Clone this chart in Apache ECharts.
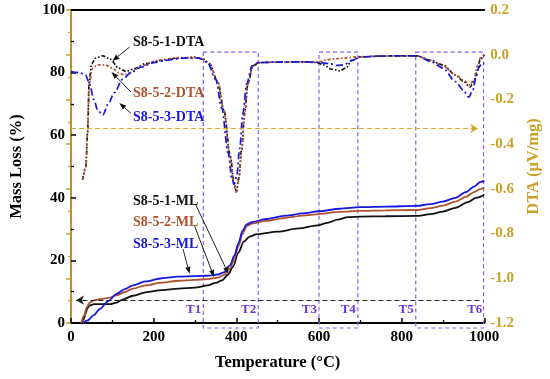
<!DOCTYPE html>
<html><head><meta charset="utf-8">
<script src="https://cdn.jsdelivr.net/npm/echarts@6/dist/echarts.min.js"></script>
<style>html,body{margin:0;padding:0;background:#fff}#c{width:550px;height:379px}</style>
</head><body><div id="c"></div>
<script>
// ---------- data ----------
const seriesNames = ['S8-5-1-DTA','S8-5-2-DTA','S8-5-3-DTA','S8-5-1-ML','S8-5-2-ML','S8-5-3-ML'];
// DTA (µV/mg) vs temperature (°C)
const dta1 = [[28,-0.56],[36,-0.50],[40,-0.35],[44,-0.12],[50,-0.04],[60,-0.015],[77,-0.005],[95,-0.02],[115,-0.06],[133,-0.075],[150,-0.065],[180,-0.04],[220,-0.025],[260,-0.015],[300,-0.012],[320,-0.02],[335,-0.04],[355,-0.12],[370,-0.25],[385,-0.45],[395,-0.58],[400,-0.61],[406,-0.55],[413,-0.42],[420,-0.26],[428,-0.13],[440,-0.05],[455,-0.035],[500,-0.033],[560,-0.032],[595,-0.035],[610,-0.045],[630,-0.065],[650,-0.072],[665,-0.06],[680,-0.025],[700,-0.01],[750,-0.006],[800,-0.005],[836,-0.005],[870,-0.025],[900,-0.046],[930,-0.09],[950,-0.12],[965,-0.145],[975,-0.12],[983,-0.07],[990,-0.02],[1000,0.0]];
const dta2 = [[28,-0.56],[36,-0.50],[40,-0.35],[44,-0.13],[52,-0.06],[65,-0.045],[82,-0.045],[100,-0.06],[115,-0.08],[128,-0.09],[145,-0.08],[170,-0.05],[210,-0.025],[260,-0.013],[300,-0.012],[320,-0.02],[335,-0.04],[355,-0.12],[370,-0.25],[385,-0.46],[395,-0.59],[400,-0.62],[406,-0.56],[413,-0.43],[420,-0.27],[428,-0.13],[440,-0.05],[455,-0.035],[500,-0.033],[560,-0.032],[600,-0.032],[620,-0.022],[640,-0.018],[660,-0.015],[690,-0.01],[750,-0.006],[800,-0.005],[836,-0.005],[870,-0.025],[900,-0.05],[930,-0.09],[950,-0.115],[965,-0.135],[975,-0.11],[983,-0.05],[990,-0.015],[1000,0.0]];
const dta3 = [[0,-0.075],[20,-0.08],[35,-0.09],[45,-0.13],[55,-0.2],[65,-0.25],[77,-0.27],[90,-0.22],[105,-0.17],[125,-0.11],[145,-0.08],[170,-0.055],[200,-0.035],[230,-0.025],[270,-0.015],[310,-0.015],[330,-0.035],[350,-0.11],[365,-0.24],[380,-0.44],[390,-0.56],[395,-0.58],[401,-0.54],[408,-0.42],[416,-0.26],[425,-0.13],[438,-0.05],[455,-0.035],[500,-0.033],[560,-0.032],[600,-0.035],[625,-0.04],[645,-0.048],[660,-0.045],[680,-0.025],[700,-0.01],[750,-0.006],[800,-0.005],[836,-0.005],[870,-0.03],[900,-0.06],[930,-0.12],[950,-0.16],[962,-0.19],[972,-0.16],[980,-0.10],[986,-0.06],[993,-0.04],[1000,-0.04]];
// Mass loss (%) vs temperature (°C)
const ml1 = [[25,0],[30,1],[35,3],[40,4.8],[45,5.6],[55,6.0],[70,6.0],[95,6.0],[110,6.5],[125,7.5],[150,8.7],[180,9.8],[220,10.5],[260,11],[300,11.3],[330,12],[350,12.8],[365,13.6],[380,15.5],[392,18],[405,22.5],[418,26],[432,27.6],[450,28.4],[500,29.2],[550,30.2],[596,31.2],[620,32],[645,33],[670,33.8],[700,34],[760,34.1],[836,34.2],[870,34.8],[900,35.6],[930,36.8],[960,38.6],[980,40],[1000,41]];
const ml2 = [[25,0],[32,2.5],[38,5],[45,6.5],[55,7.2],[70,7.6],[90,8],[110,8.8],[130,9.9],[150,11],[180,12],[220,12.9],[260,13.5],[300,13.8],[330,14],[355,14.5],[370,15.4],[385,17.5],[395,20.5],[405,24.5],[415,28.5],[425,31],[440,31.8],[470,32.6],[520,33.6],[560,34.3],[600,34.8],[650,35.5],[700,35.8],[760,36],[836,36.1],[870,36.7],[900,37.5],[930,38.8],[955,40.3],[975,41.8],[990,42.8],[1000,43.3]];
const ml3 = [[28,0],[40,0.8],[55,2.5],[70,4.5],[90,7],[110,9.3],[130,10.8],[150,12],[180,13.3],[220,14.3],[260,14.8],[300,15],[330,15.1],[355,15.5],[370,16.2],[385,18.5],[395,21.5],[405,25.5],[415,29.5],[425,31.5],[440,32.3],[470,33.2],[520,34.3],[560,35],[600,35.7],[650,36.5],[700,37],[760,37.2],[836,37.4],[870,38],[900,38.8],[930,40],[955,41.8],[975,43.6],[990,45],[1000,45.5]];
// temperature regions and their labels
const regionBounds = [[320,453],[600,694],[834,998]];
const regionTopDTA = 0.012;
const regionLabels = ['T1','T2','T3','T4','T5','T6'];
const regionLabelTemps = [320,453,600,694,834,1000];
// reference (axis-pointer) lines
const massRefLine = [[12,7.3],[988,7.3]];
const dtaRefLine = [[0,-0.33],[985,-0.33]];
// annotation anchors (data coordinates on the mass-loss axis)
const annotTextAt = [[150,89.5],[150,73.2],[150,65.8],[150,38.7],[150,32.3],[150,25.2]];
const annotFrom = [[142,88.2],[145,73.8],[145,67],[301,38],[299,31],[271,23.6]];
const annotTip = [[100,83.7],[98,80.2],[117,70.3],[381,15.7],[346,14.7],[287,15.7]];

// ---------- styles ----------
const FONT = "'Liberation Serif','Times New Roman',serif";
const GOLD = '#C9A227';
const colors = ['#111111','#B0522F','#1717DD'];
const PURPLE = '#8A5CF0';
const fmtDTA = v => (Math.abs(v) < 1e-9 ? 0 : v).toFixed(1);

const chart = echarts.init(document.getElementById('c'), null, {renderer:'canvas'});

function dtaSeries(name, data, color, dash) {
  return {name, type:'line', xAxisIndex:0, yAxisIndex:1, data, smooth:0.3, smoothMonotone:'x',
    showSymbol:false, symbol:'none', lineStyle:{color, width:1.7, type:dash}, z:3, silent:true};
}
function mlSeries(name, data, color) {
  return {name, type:'line', xAxisIndex:0, yAxisIndex:0, data, smooth:0.3, smoothMonotone:'x',
    showSymbol:false, symbol:'none', lineStyle:{color, width:1.8}, z:4, silent:true};
}

const s1 = dtaSeries(seriesNames[0], dta1, colors[0], [4,2,1.5,2,1.5,2]);
const s2 = dtaSeries(seriesNames[1], dta2, colors[1], [3,2,1.5,2]);
const s3 = dtaSeries(seriesNames[2], dta3, colors[2], [7,3,2,3]);
s3.markLine = {silent:true, animation:false, symbol:['none','arrow'], symbolSize:[7,8], label:{show:false},
  lineStyle:{color:'#D4AA2A', type:[5,3], width:1.2},
  data:[[{coord:dtaRefLine[0]},{coord:dtaRefLine[1]}]]};
const m1 = mlSeries(seriesNames[3], ml1, colors[0]);
m1.markLine = {silent:true, animation:false, symbol:['none','arrow'], symbolSize:[7,8], label:{show:false},
  lineStyle:{color:'#222', type:[5,3], width:1.1},
  data:[[{coord:massRefLine[1]},{coord:massRefLine[0]}]]};
const m2 = mlSeries(seriesNames[4], ml2, colors[1]);
const m3 = mlSeries(seriesNames[5], ml3, colors[2]);

const annotColors = [colors[0],colors[1],colors[2],colors[0],colors[1],colors[2]];

const option = {
  animation:false,
  backgroundColor:'#fff',
  grid:{left:65, right:57, top:10, bottom:56, containLabel:false},
  xAxis:[{
    type:'value', min:0, max:1000, interval:200, position:'bottom',
    name:'Temperature (°C)', nameLocation:'middle', nameGap:31,
    nameTextStyle:{fontFamily:FONT, fontWeight:'bold', fontSize:16.5, color:'#000'},
    axisLine:{lineStyle:{color:'#000', width:1.8}},
    axisTick:{inside:true, length:5, lineStyle:{color:'#000', width:1.5}},
    minorTick:{show:true, splitNumber:2, length:3, lineStyle:{color:'#000', width:1.3}},
    axisLabel:{fontFamily:FONT, fontWeight:'bold', fontSize:15, color:'#000', margin:7, formatter:v => String(v)},
    splitLine:{show:false}
  },{
    type:'value', min:0, max:1000, position:'top',
    axisLine:{show:true, onZero:false, lineStyle:{color:'#000', width:1.8}},
    axisTick:{show:false}, axisLabel:{show:false}, splitLine:{show:false}
  }],
  yAxis:[{
    type:'value', min:0, max:100, interval:20, position:'left',
    name:'Mass Loss (%)', nameLocation:'middle', nameGap:46,
    nameTextStyle:{fontFamily:FONT, fontWeight:'bold', fontSize:16.5, color:'#000'},
    axisLine:{show:true, lineStyle:{color:'#000', width:1.8}},
    axisTick:{inside:true, length:5, lineStyle:{color:'#000', width:1.5}},
    minorTick:{show:true, splitNumber:2, length:3, lineStyle:{color:'#000', width:1.3}},
    axisLabel:{fontFamily:FONT, fontWeight:'bold', fontSize:15, color:'#000', margin:6},
    splitLine:{show:false}
  },{
    type:'value', min:-1.2, max:0.2, interval:0.2, position:'right',
    name:'DTA (μV/mg)', nameLocation:'middle', nameGap:38,
    nameTextStyle:{fontFamily:FONT, fontWeight:'bold', fontSize:16.5, color:GOLD},
    axisLine:{show:true, lineStyle:{color:GOLD, width:1.8}},
    axisTick:{inside:true, length:5, lineStyle:{color:GOLD, width:1.5}},
    minorTick:{show:true, splitNumber:2, length:3, lineStyle:{color:GOLD, width:1.3}},
    axisLabel:{fontFamily:FONT, fontWeight:'bold', fontSize:15, color:GOLD, margin:6, formatter:fmtDTA},
    splitLine:{show:false}
  }],
  series:[
    // region boxes
    {type:'custom', xAxisIndex:0, yAxisIndex:1, silent:true, z:2, clip:false,
     data: regionBounds,
     renderItem(params, api){
       const p1 = api.coord([api.value(0), regionTopDTA]);
       const p2 = api.coord([api.value(1), regionTopDTA]);
       const yb = api.coord([api.value(0), -1.2])[1] + 5;
       return {type:'rect', shape:{x:p1[0], y:p1[1], width:p2[0]-p1[0], height:yb-p1[1]},
         style:{fill:null, stroke:PURPLE, lineWidth:1.2, lineDash:[4,3]}};
     }},
    // region labels
    {type:'custom', xAxisIndex:0, yAxisIndex:1, silent:true, z:5, clip:false,
     data: regionLabelTemps.map((t,i)=>[t, -1.2, i]),
     renderItem(params, api){
       const p = api.coord([api.value(0), -1.2]);
       return {type:'text', x:p[0]-2, y:p[1]-13,
         style:{text:regionLabels[api.value(2)], fill:'#6A3BD8', align:'right', verticalAlign:'middle',
           font:"bold 13px " + FONT}};
     }},
    s1, s2, s3, m1, m2, m3,
    // annotations
    {type:'custom', xAxisIndex:0, yAxisIndex:0, silent:true, z:6, clip:false,
     data: annotTextAt.map((p,i)=>[p[0], p[1], i]),
     renderItem(params, api){
       const i = api.value(2);
       const tp = api.coord([api.value(0), api.value(1)]);
       const f = api.coord(annotFrom[i]);
       const t = api.coord(annotTip[i]);
       const a = Math.atan2(t[1]-f[1], t[0]-f[0]);
       const L = 7, W = 2.6;
       const bx = t[0]-L*Math.cos(a), by = t[1]-L*Math.sin(a);
       const nx = -Math.sin(a), ny = Math.cos(a);
       return {type:'group', children:[
         {type:'line', shape:{x1:f[0], y1:f[1], x2:bx, y2:by}, style:{stroke:'#222', lineWidth:1}},
         {type:'polygon', shape:{points:[[t[0],t[1]],[bx+W*nx,by+W*ny],[bx-W*nx,by-W*ny]]}, style:{fill:'#111'}},
         {type:'text', x:tp[0], y:tp[1], style:{text:seriesNames[i], fill:annotColors[i], align:'left',
           verticalAlign:'middle', font:"bold 14px " + FONT}}
       ]};
     }}
  ]
};
chart.setOption(option);
</script></body></html>
